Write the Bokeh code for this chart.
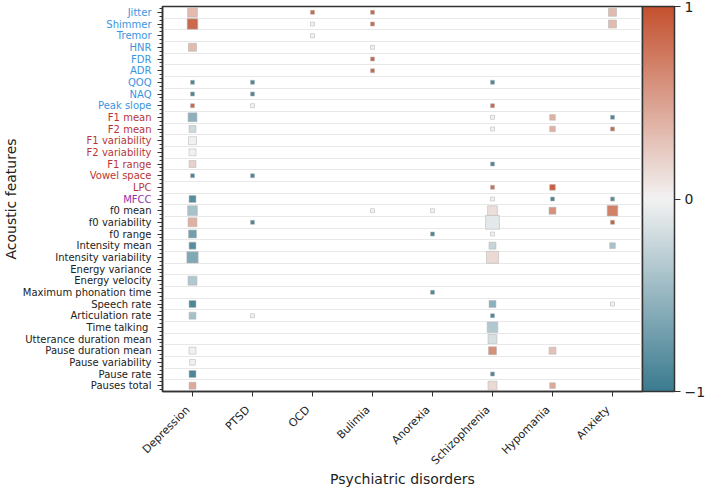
import math
import numpy as np
from bokeh.plotting import figure
from bokeh.layouts import row, column
from bokeh.models import (ColumnDataSource, Range1d, FixedTicker,
                          LinearColorMapper, ColorBar)
from bokeh.core.properties import value
from bokeh.transform import linear_cmap
from bokeh.embed import file_html
from bokeh.resources import INLINE

# ---------------- data ----------------
features = ["Jitter", "Shimmer", "Tremor", "HNR", "FDR", "ADR", "QOQ", "NAQ", "Peak slope",
            "F1 mean", "F2 mean", "F1 variability", "F2 variability", "F1 range", "Vowel space", "LPC",
            "MFCC",
            "f0 mean", "f0 variability", "f0 range", "Intensity mean", "Intensity variability",
            "Energy variance", "Energy velocity", "Maximum phonation time", "Speech rate",
            "Articulation rate", "Time talking ", "Utterance duration mean", "Pause duration mean",
            "Pause variability", "Pause rate", "Pauses total"]
feature_groups = ["source"] * 9 + ["formant"] * 7 + ["spectral"] * 1 + ["prosody"] * 16

disorders = ["Depression", "PTSD", "OCD", "Bulimia", "Anorexia", "Schizophrenia", "Hypomania", "Anxiety"]

# (feature, effect direction/strength, number of studies)
depression = [("Jitter", 0.35, 6), ("Shimmer", 0.85, 7), ("HNR", 0.35, 4), ("QOQ", -0.9, 1),
              ("NAQ", -0.9, 1), ("Peak slope", 0.85, 1), ("F1 mean", -0.55, 5), ("F2 mean", -0.2, 3),
              ("F1 variability", 0.0, 4), ("F2 variability", 0.0, 3), ("F1 range", 0.2, 3),
              ("Vowel space", -0.9, 1), ("MFCC", -0.85, 3), ("f0 mean", -0.4, 6),
              ("f0 variability", 0.4, 5), ("f0 range", -0.7, 4), ("Intensity mean", -0.85, 3),
              ("Intensity variability", -0.62, 8), ("Energy velocity", -0.35, 5),
              ("Speech rate", -0.9, 3), ("Articulation rate", -0.42, 3),
              ("Pause duration mean", 0.0, 3), ("Pause variability", 0.0, 2),
              ("Pause rate", -0.9, 3), ("Pauses total", 0.45, 3)]
ptsd = [("QOQ", -0.9, 1), ("NAQ", -0.9, 1), ("Peak slope", 0.0, 1), ("Vowel space", -0.9, 1),
        ("f0 variability", -0.9, 1), ("Articulation rate", 0.0, 1)]
ocd = [("Jitter", 0.85, 1), ("Shimmer", 0.0, 1), ("Tremor", 0.0, 1)]
bulimia = [("Jitter", 0.85, 1), ("Shimmer", 0.85, 1), ("HNR", 0.0, 1), ("FDR", 0.85, 1),
           ("ADR", 0.85, 1), ("f0 mean", 0.0, 1)]
anorexia = [("f0 mean", 0.0, 1), ("f0 range", -0.9, 1), ("Maximum phonation time", -0.9, 1)]
schizophrenia = [("QOQ", -0.9, 1), ("Peak slope", 0.85, 1), ("F1 mean", 0.0, 1), ("F2 mean", 0.0, 1),
                 ("F1 range", -0.9, 1), ("LPC", 0.8, 1), ("MFCC", 0.0, 1), ("f0 mean", 0.12, 6),
                 ("f0 variability", -0.08, 12), ("f0 range", 0.0, 1), ("Intensity mean", -0.25, 3),
                 ("Intensity variability", 0.15, 9), ("Speech rate", -0.55, 3),
                 ("Articulation rate", -0.9, 1), ("Time talking ", -0.35, 7),
                 ("Utterance duration mean", -0.15, 5), ("Pause duration mean", 0.6, 4),
                 ("Pause rate", -0.9, 1), ("Pauses total", 0.15, 5)]
hypomania = [("F1 mean", 0.4, 2), ("F2 mean", 0.4, 2), ("LPC", 0.9, 2), ("MFCC", -0.9, 1),
             ("f0 mean", 0.6, 3), ("Pause duration mean", 0.3, 3), ("Pauses total", 0.45, 2)]
anxiety = [("Jitter", 0.35, 4), ("Shimmer", 0.35, 4), ("F1 mean", -0.9, 1), ("F2 mean", 0.85, 1),
           ("MFCC", -0.85, 1), ("f0 mean", 0.7, 7), ("f0 variability", 0.9, 1),
           ("Intensity mean", -0.4, 2), ("Speech rate", 0.0, 1)]

findings = [depression, ptsd, ocd, bulimia, anorexia, schizophrenia, hypomania, anxiety]

# ---------------- styling ----------------
FONT = "DejaVu Sans"
group_colors = {"source": "#3a95e0", "formant": "#b83636", "spectral": "#9631a6", "prosody": "#222222"}

def hex_to_rgb(h):
    h = h.lstrip("#")
    return np.array([int(h[i:i + 2], 16) for i in (0, 2, 4)], dtype=float)

c_neg, c_mid, c_pos = hex_to_rgb("#3b7b90"), hex_to_rgb("#f2f2f2"), hex_to_rgb("#c4512f")
palette = []
for t in np.linspace(-1, 1, 256):
    c = c_mid + (c_pos - c_mid) * t if t >= 0 else c_mid + (c_neg - c_mid) * (-t)
    palette.append("#%02x%02x%02x" % tuple(int(round(v)) for v in c))

FRAME_W = 480
FRAME_H = 385
TOP = 6
AXIS_GAP = 8       # main plot bottom border (tick marks)
XLAB_H = 89        # panel with rotated disorder names + x title
LAB_W = 152
LEFT = 10
RIGHT = 65
XLABEL_DROP = 16.5  # px below frame bottom for the rotated label anchor
XTITLE_DROP = 87    # px below frame bottom for the x title centre

# ---------------- build source ----------------
xs, ys, effs, sizes = [], [], [], []
for di, rows in enumerate(findings):
    for feat, eff, n in rows:
        xs.append(di)
        ys.append(features.index(feat))
        effs.append(eff)
        sizes.append(4.0 * math.sqrt(n))
src = ColumnDataSource(dict(x=xs, y=ys, eff=effs, size=sizes))

X0, X1 = -0.5, len(disorders) - 0.5
y_range = Range1d(len(features) - 0.5, -0.5)
x_range = Range1d(X0, X1)

# ---------- label panel (coloured feature names + y title) ----------
lab = figure(frame_width=LAB_W, frame_height=FRAME_H, x_range=Range1d(0, LAB_W), y_range=y_range,
             output_backend="svg", toolbar_location=None,
             x_axis_location=None, y_axis_location=None,
             min_border_left=0, min_border_right=0, min_border_top=TOP,
             min_border_bottom=AXIS_GAP)
lab.outline_line_color = None
lab.xgrid.visible = False
lab.ygrid.visible = False
lab_src = ColumnDataSource(dict(x=[LAB_W - 1] * len(features), y=list(range(len(features))),
                                text=features, color=[group_colors[g] for g in feature_groups]))
lab.text(x="x", y="y", text="text", source=lab_src, text_align="right", text_baseline="middle",
         text_color="color", text_font=value(FONT), text_font_size="10px")
lab.text(x=[10], y=[(len(features) - 1) / 2], text=["Acoustic features"], angle=math.pi / 2,
         text_align="center", text_baseline="middle", text_color="#222222",
         text_font=value(FONT), text_font_size="14px")

# ---------- main panel ----------
p = figure(frame_width=FRAME_W, frame_height=FRAME_H, x_range=x_range, y_range=y_range,
           output_backend="svg", toolbar_location=None,
           min_border_left=LEFT, min_border_right=RIGHT, min_border_top=TOP,
           min_border_bottom=AXIS_GAP)
p.background_fill_color = "white"
p.border_fill_color = "white"
p.outline_line_color = "#333333"
p.outline_line_width = 1.5

mapper = LinearColorMapper(palette=palette, low=-1, high=1)
p.scatter("x", "y", source=src, marker="square", size="size",
          fill_color=linear_cmap("eff", palette, -1, 1),
          line_color="#b8b8b8", line_alpha=0.7, line_width=0.8)

p.xgrid.visible = False
p.ygrid.ticker = FixedTicker(ticks=[i + 0.5 for i in range(-1, len(features))])
p.ygrid.grid_line_color = "#e8e8e8"
p.ygrid.grid_line_width = 1

p.xaxis.ticker = FixedTicker(ticks=list(range(len(disorders))), minor_ticks=[])
p.xaxis.major_label_overrides = {i: "" for i in range(len(disorders))}
p.xaxis.major_label_text_font_size = "1px"
p.xaxis.major_label_standoff = 0
p.xaxis.major_tick_out = 5
p.xaxis.major_tick_in = 0
p.xaxis.axis_line_color = "#333333"
p.xaxis.axis_line_width = 1.5
p.xaxis.major_tick_line_color = "#333333"

p.yaxis.ticker = FixedTicker(ticks=list(range(len(features))),
                             minor_ticks=[i + f for i in range(-1, len(features)) for f in (1 / 3, 2 / 3)])
p.yaxis.major_label_overrides = {i: "" for i in range(len(features))}
p.yaxis.major_label_text_font_size = "1px"
p.yaxis.major_label_standoff = 0
p.yaxis.major_tick_out = 5
p.yaxis.major_tick_in = 0
p.yaxis.minor_tick_out = 3
p.yaxis.minor_tick_in = 0
p.yaxis.axis_line_color = "#333333"
p.yaxis.axis_line_width = 1.5
p.yaxis.major_tick_line_color = "#333333"
p.yaxis.minor_tick_line_color = "#333333"

cb = ColorBar(color_mapper=mapper, ticker=FixedTicker(ticks=[-1, 0, 1], minor_ticks=[]),
              major_label_overrides={-1: "\u22121", 0: "0", 1: "1"},
              width=32, padding=0, margin=4, location=(0, 0),
              bar_line_color="#333333", bar_line_width=1.5,
              major_tick_in=0, major_tick_out=6, major_tick_line_color="#333333",
              label_standoff=4, major_label_text_font=FONT, major_label_text_font_size="14px",
              major_label_text_color="#222222", background_fill_alpha=0, border_line_color=None)
p.add_layout(cb, "right")

# ---------- x label panel: full width, same x scale as the main frame ----------
TOTAL_W = LAB_W + LEFT + FRAME_W + RIGHT
units_per_px = (X1 - X0) / FRAME_W
xlab = figure(frame_width=TOTAL_W, frame_height=XLAB_H,
              x_range=Range1d(X0 - (LAB_W + LEFT) * units_per_px, X1 + RIGHT * units_per_px),
              y_range=Range1d(-(AXIS_GAP + XLAB_H), -AXIS_GAP),
              output_backend="svg", toolbar_location=None,
              x_axis_location=None, y_axis_location=None,
              min_border_left=0, min_border_right=0, min_border_top=0, min_border_bottom=0)
xlab.outline_line_color = None
xlab.xgrid.visible = False
xlab.ygrid.visible = False
xsrc = ColumnDataSource(dict(x=list(range(len(disorders))), y=[-XLABEL_DROP] * len(disorders),
                             text=disorders))
xlab.text(x="x", y="y", text="text", source=xsrc, angle=math.pi / 4, x_offset=-4.5,
          text_align="right", text_baseline="middle", text_color="#222222",
          text_font=value(FONT), text_font_size="11px")
xlab.text(x=[(X0 + X1) / 2], y=[-XTITLE_DROP], text=["Psychiatric disorders"],
          text_align="center", text_baseline="middle", text_color="#222222",
          text_font=value(FONT), text_font_size="14px")

layout = column(row(lab, p, spacing=0), xlab, spacing=0)
open("out.html", "w").write(file_html(layout, INLINE))
